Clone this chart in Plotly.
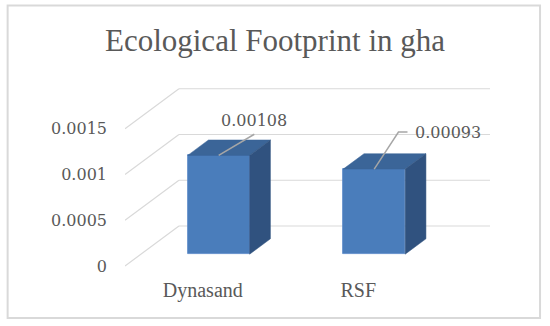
import plotly.graph_objects as go

# ---------------- data ----------------
categories = ["Dynasand", "RSF"]
values = [0.00108, 0.00093]
value_labels = ["0.00108", "0.00093"]
tick_values = [0, 0.0005, 0.001, 0.0015]
tick_labels = ["0", "0.0005", "0.001", "0.0015"]
title_text = "Ecological Footprint in gha"

# ---------------- geometry / style ----------------
W, H = 550, 326
PX_PER_X = 155.7          # px per category unit
PX_PER_Y = 91500.0        # px per value unit
ZERO_PX = 266.0           # screen y of the front zero line
DEPTH_DX = 54 / PX_PER_X  # oblique depth offset (category units)
DEPTH_DY = 40 / PX_PER_Y  # oblique depth offset (value units)
BAR_W = 62 / PX_PER_X
BAR_Z0, BAR_Z1 = 0.295, 0.68  # bar depth extent, fraction of full depth

ML, MT, MB = 125, 50, 50
X_RANGE = [-0.5, 1.5 + DEPTH_DX]
PLOT_W = (X_RANGE[1] - X_RANGE[0]) * PX_PER_X
MR = W - ML - PLOT_W
Y_RANGE = [-((H - MB) - ZERO_PX) / PX_PER_Y, (ZERO_PX - MT) / PX_PER_Y]

C_FRONT, C_TOP, C_SIDE = "#4a7dbb", "#3b6598", "#30527f"
C_GRID, C_TEXT, C_LEADER = "#d9d9d9", "#595959", "#a6a6a6"

# label placements relative to front-top centre of each bar: (dx, dy) of text, leader path
label_offsets = [
    dict(text=(0.229, 0.000376), path=[(0.229, 0.000231)]),
    dict(text=(0.477, 0.000398), path=[(0.156, 0.000405), (0.214, 0.000405)]),
]

fig = go.Figure()

# back wall + side diagonals (below the traces)
for v in tick_values:
    fig.add_shape(type="line", xref="x", yref="y", layer="below",
                  x0=X_RANGE[0] + DEPTH_DX, x1=X_RANGE[1], y0=v + DEPTH_DY, y1=v + DEPTH_DY,
                  line=dict(color=C_GRID, width=1.2))
    fig.add_shape(type="line", xref="x", yref="y", layer="below",
                  x0=X_RANGE[0], x1=X_RANGE[0] + DEPTH_DX, y0=v, y1=v + DEPTH_DY,
                  line=dict(color=C_GRID, width=1.2))

bx0 = BAR_Z0 * DEPTH_DX
by0 = BAR_Z0 * DEPTH_DY
bdx = (BAR_Z1 - BAR_Z0) * DEPTH_DX
bdy = (BAR_Z1 - BAR_Z0) * DEPTH_DY

# front faces (real bars)
fig.add_trace(go.Bar(x=[i + bx0 for i in range(len(values))], y=values, base=by0,
                     width=BAR_W, marker=dict(color=C_FRONT, line=dict(width=0.8, color="#5888c6")),
                     hoverinfo="skip", showlegend=False))

for i, v in enumerate(values):
    xl = i + bx0 - BAR_W / 2
    xr = i + bx0 + BAR_W / 2
    yb = by0
    yt = by0 + v
    # top face
    fig.add_trace(go.Scatter(x=[xl, xr, xr + bdx, xl + bdx, xl],
                             y=[yt, yt, yt + bdy, yt + bdy, yt],
                             mode="lines", fill="toself", fillcolor=C_TOP,
                             line=dict(color=C_TOP, width=0.5), hoverinfo="skip", showlegend=False))
    # side face
    fig.add_trace(go.Scatter(x=[xr, xr, xr + bdx, xr + bdx, xr],
                             y=[yb, yt, yt + bdy, yb + bdy, yb],
                             mode="lines", fill="toself", fillcolor=C_SIDE,
                             line=dict(color=C_SIDE, width=0.5), hoverinfo="skip", showlegend=False))

# leader lines + data labels
for i, v in enumerate(values):
    cx = i + bx0
    cy = by0 + v
    px = [cx] + [cx + p[0] for p in label_offsets[i]["path"]]
    py = [cy] + [cy + p[1] for p in label_offsets[i]["path"]]
    fig.add_trace(go.Scatter(x=px, y=py, mode="lines", line=dict(color=C_LEADER, width=1.5),
                             hoverinfo="skip", showlegend=False))
    tx, ty = label_offsets[i]["text"]
    fig.add_annotation(x=cx + tx, y=cy + ty, text=value_labels[i], showarrow=False,
                       xanchor="center", yanchor="middle",
                       font=dict(family="DejaVu Serif", size=16, color=C_TEXT))

# outer chart border
fig.add_shape(type="rect", xref="paper", yref="paper",
              x0=(7.5 - ML) / PLOT_W, x1=(540.5 - ML) / PLOT_W,
              y0=1 - (318 - MT) / (H - MT - MB), y1=1 - (5.5 - MT) / (H - MT - MB),
              line=dict(color="#d9d9d9", width=2))

fig.update_layout(
    width=W, height=H,
    margin=dict(l=ML, r=MR, t=MT, b=MB, pad=0),
    paper_bgcolor="white", plot_bgcolor="rgba(0,0,0,0)",
    title=dict(text=title_text, x=275 / W, xanchor="center", xref="container",
               y=1 - 40 / H, yref="container", yanchor="middle",
               font=dict(family="Liberation Serif", size=31, color=C_TEXT)),
    bargap=0,
    xaxis=dict(range=X_RANGE, tickvals=list(range(len(categories))), ticktext=categories,
               showgrid=False, zeroline=False, showline=False, ticks="",
               tickfont=dict(family="Liberation Serif", size=20, color=C_TEXT),
               ticklabelstandoff=0, fixedrange=True),
    yaxis=dict(range=Y_RANGE, tickvals=tick_values, ticktext=tick_labels,
               showgrid=False, zeroline=False, showline=False, ticks="",
               tickfont=dict(family="DejaVu Serif", size=16, color=C_TEXT),
               ticklabelstandoff=17, fixedrange=True),
)

fig.write_html("out.html", config={"displayModeBar": False},
               post_script="document.body.style.margin='0';")
